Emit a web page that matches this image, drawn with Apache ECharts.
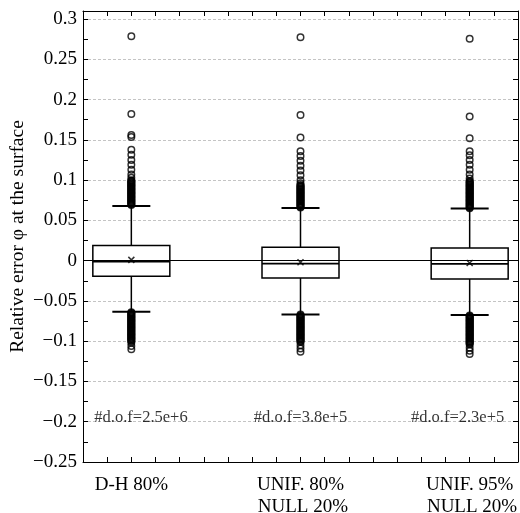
<!DOCTYPE html>
<html>
<head>
<meta charset="utf-8">
<script src="https://cdn.jsdelivr.net/npm/echarts@6/dist/echarts.min.js"></script>
<style>html,body{margin:0;padding:0;background:#fff;}#c{width:520px;height:513px;}</style>
</head>
<body>
<div id="c"></div>
<script>
// ---- data ----
const categories = ['D-H 80%', 'UNIF. 80%\n NULL 20%', 'UNIF. 95%\n NULL 20%'];
const whiskerLow  = [-0.0634, -0.0667, -0.0675];
const q1          = [-0.0194, -0.0215, -0.0228];
const median      = [-0.0012, -0.0037, -0.0041];
const q3          = [0.0187, 0.0167, 0.0158];
const whiskerHigh = [0.068, 0.0655, 0.0647];
const means       = [0.001, -0.002, -0.003];
const dofLabels   = ['#d.o.f=2.5e+6', '#d.o.f=3.8e+5', '#d.o.f=2.3e+5'];
const dofY        = -0.195;
const dofPos      = [0.4, 7, 13.5];
const outliers1 = [0.2786, 0.182, 0.156, 0.1535, 0.1377, 0.1315, 0.125, 0.119, 0.113, 0.107, 0.103,
  0.100, 0.099, 0.098, 0.097, 0.096, 0.095, 0.094, 0.093, 0.092, 0.091, 0.090, 0.089, 0.088, 0.087,
  0.086, 0.085, 0.084, 0.083, 0.082, 0.081, 0.080, 0.079, 0.078, 0.077, 0.076, 0.075, 0.074, 0.073,
  0.072, 0.071, 0.070, 0.069,
  -0.064, -0.065, -0.066, -0.067, -0.068, -0.069, -0.070, -0.071, -0.072, -0.073, -0.074, -0.075,
  -0.076, -0.077, -0.078, -0.079, -0.080, -0.081, -0.082, -0.083, -0.084, -0.085, -0.086, -0.087,
  -0.088, -0.089, -0.090, -0.091, -0.092, -0.093, -0.094, -0.095, -0.096, -0.097, -0.098, -0.099,
  -0.100, -0.102, -0.106, -0.110];
const outliers2 = [0.2775, 0.181, 0.153, 0.136, 0.130, 0.124, 0.118, 0.112, 0.106, 0.100, 0.096,
  0.094, 0.093, 0.092, 0.091, 0.090, 0.089, 0.088, 0.087, 0.086, 0.085, 0.084, 0.083, 0.082, 0.081,
  0.080, 0.079, 0.078, 0.077, 0.076, 0.075, 0.074, 0.073, 0.072, 0.071, 0.070, 0.069, 0.068, 0.067, 0.066,
  -0.067, -0.068, -0.069, -0.070, -0.071, -0.072, -0.073, -0.074, -0.075, -0.076, -0.077, -0.078,
  -0.079, -0.080, -0.081, -0.082, -0.083, -0.084, -0.085, -0.086, -0.087, -0.088, -0.089, -0.090,
  -0.091, -0.092, -0.093, -0.094, -0.095, -0.096, -0.097, -0.098, -0.099, -0.100, -0.101,
  -0.105, -0.109, -0.113];
const outliers3 = [0.2754, 0.179, 0.152, 0.136, 0.131, 0.125, 0.119, 0.113, 0.107, 0.102,
  0.099, 0.098, 0.097, 0.096, 0.095, 0.094, 0.093, 0.092, 0.091, 0.090, 0.089, 0.088, 0.087, 0.086,
  0.085, 0.084, 0.083, 0.082, 0.081, 0.080, 0.079, 0.078, 0.077, 0.076, 0.075, 0.074, 0.073, 0.072,
  0.071, 0.070, 0.069, 0.068, 0.067, 0.066, 0.065,
  -0.068, -0.069, -0.070, -0.071, -0.072, -0.073, -0.074, -0.075, -0.076, -0.077, -0.078, -0.079,
  -0.080, -0.081, -0.082, -0.083, -0.084, -0.085, -0.086, -0.087, -0.088, -0.089, -0.090, -0.091,
  -0.092, -0.093, -0.094, -0.095, -0.096, -0.097, -0.098, -0.099, -0.100, -0.101, -0.102, -0.103,
  -0.104, -0.108, -0.112, -0.116];
const outlierSets = [outliers1, outliers2, outliers3];
const yMin = -0.25, yMax = 0.31, yStep = 0.05;
const xMin = -2, xMax = 16, xStep = 1, boxSpacing = 7;

// ---- build ----
const pos = categories.map((c, i) => i * boxSpacing);
const boxData = pos.map((p, i) => [p, whiskerLow[i], q1[i], median[i], q3[i], whiskerHigh[i]]);
const meanData = pos.map((p, i) => [p, means[i]]);
const outData = [];
outlierSets.forEach((arr, i) => arr.forEach(v => outData.push([pos[i], v])));
const dofData = dofPos.map((p, i) => [p, dofY]);

const FONT = 'Liberation Serif';
const fmtY = v => {
  if (Math.abs(v - yMax) < 1e-9) return '';
  return String(+v.toFixed(3)).replace('-', '\u2212');
};
const fmtX = v => {
  const r = Math.round(v);
  if (Math.abs(v - r) > 1e-6 || r % boxSpacing !== 0) return '';
  const idx = r / boxSpacing;
  return categories[idx] || '';
};

const chart = echarts.init(document.getElementById('c'), null, {renderer: 'canvas'});
chart.setOption({
  animation: false,
  backgroundColor: '#fff',
  grid: {left: 83, right: 2, top: 11, bottom: 51, containLabel: false, outerBoundsMode: 'none'},
  xAxis: [{
    type: 'value', position: 'bottom', min: xMin, max: xMax, interval: xStep,
    axisLine: {show: true, onZero: false, lineStyle: {color: '#000', width: 1}},
    axisTick: {show: true, inside: true, length: 5, lineStyle: {color: '#000'}},
    axisLabel: {show: true, formatter: fmtX, color: '#000', fontFamily: FONT, fontSize: 19,
      lineHeight: 22, margin: 12, showMinLabel: true, showMaxLabel: true, hideOverlap: false},
    splitLine: {show: false}
  }, {
    type: 'value', position: 'top', min: xMin, max: xMax, interval: xStep,
    axisLine: {show: true, onZero: false, lineStyle: {color: '#000', width: 1}},
    axisTick: {show: true, inside: true, length: 5, lineStyle: {color: '#000'}},
    axisLabel: {show: false}, splitLine: {show: false}
  }],
  yAxis: [{
    type: 'value', position: 'left', min: yMin, max: yMax, interval: yStep,
    name: 'Relative error \u03c6 at the surface', nameLocation: 'middle', nameGap: 55,
    nameMoveOverlap: false,
    nameTextStyle: {color: '#000', fontFamily: FONT, fontSize: 19.5},
    axisLine: {show: true, onZero: false, lineStyle: {color: '#000', width: 1}},
    axisTick: {show: true, inside: true, length: 5, lineStyle: {color: '#000'}},
    minorTick: {show: true, splitNumber: 2, length: 5, lineStyle: {color: '#000'}},
    axisLabel: {formatter: fmtY, color: '#000', fontFamily: FONT, fontSize: 19, margin: 6, showMaxLabel: false},
    splitLine: {show: true, lineStyle: {color: '#c4c4c4', type: [3, 2], width: 1}}
  }, {
    type: 'value', position: 'right', min: yMin, max: yMax, interval: yStep,
    axisLine: {show: true, onZero: false, lineStyle: {color: '#000', width: 1}},
    axisTick: {show: true, inside: true, length: 5, lineStyle: {color: '#000'}},
    minorTick: {show: true, splitNumber: 2, length: 5, lineStyle: {color: '#000'}},
    axisLabel: {show: false}, splitLine: {show: false}
  }],
  series: [{
    type: 'custom',
    xAxisIndex: 0, yAxisIndex: 0,
    data: boxData,
    encode: {x: 0, y: [1, 2, 3, 4, 5]},
    renderItem: function (params, api) {
      const x = api.value(0);
      const lo = api.coord([x, api.value(1)]);
      const b1 = api.coord([x, api.value(2)]);
      const md = api.coord([x, api.value(3)]);
      const b3 = api.coord([x, api.value(4)]);
      const hi = api.coord([x, api.value(5)]);
      const hw = 38.5, cw = 19;
      const st = {stroke: '#000', lineWidth: 1.5, fill: 'none'};
      const cs = {stroke: '#000', lineWidth: 2};
      return {type: 'group', children: [
        {type: 'line', shape: {x1: hi[0], y1: hi[1], x2: b3[0], y2: b3[1]}, style: st},
        {type: 'line', shape: {x1: lo[0], y1: lo[1], x2: b1[0], y2: b1[1]}, style: st},
        {type: 'line', shape: {x1: hi[0] - cw, y1: hi[1], x2: hi[0] + cw, y2: hi[1]}, style: cs},
        {type: 'line', shape: {x1: lo[0] - cw, y1: lo[1], x2: lo[0] + cw, y2: lo[1]}, style: cs},
        {type: 'rect', shape: {x: b3[0] - hw, y: b3[1], width: 2 * hw, height: b1[1] - b3[1]}, style: st},
        {type: 'line', shape: {x1: md[0] - hw, y1: md[1], x2: md[0] + hw, y2: md[1]}, style: {stroke: '#000', lineWidth: 1.8}}
      ]};
    },
    markLine: {
      silent: true, symbol: 'none', animation: false,
      label: {show: false},
      lineStyle: {color: '#000', type: 'solid', width: 1},
      data: [{yAxis: 0}]
    },
    z: 3
  }, {
    type: 'scatter',
    data: outData,
    symbol: 'circle', symbolSize: 6.5,
    itemStyle: {color: 'rgba(0,0,0,0)', borderColor: '#000', borderWidth: 1.5},
    z: 4
  }, {
    type: 'scatter',
    data: meanData,
    symbol: 'path://M0,0L10,10M10,0L0,10', symbolSize: 6,
    itemStyle: {color: 'none', borderColor: '#000', borderWidth: 1.5},
    z: 5
  }, {
    type: 'scatter',
    data: dofData,
    symbol: 'circle', symbolSize: 1,
    itemStyle: {color: 'rgba(0,0,0,0)'},
    label: {show: true, position: 'inside', formatter: p => dofLabels[p.dataIndex],
      color: '#000', fontFamily: FONT, fontSize: 16.5},
    z: 5
  }]
});
</script>
</body>
</html>
